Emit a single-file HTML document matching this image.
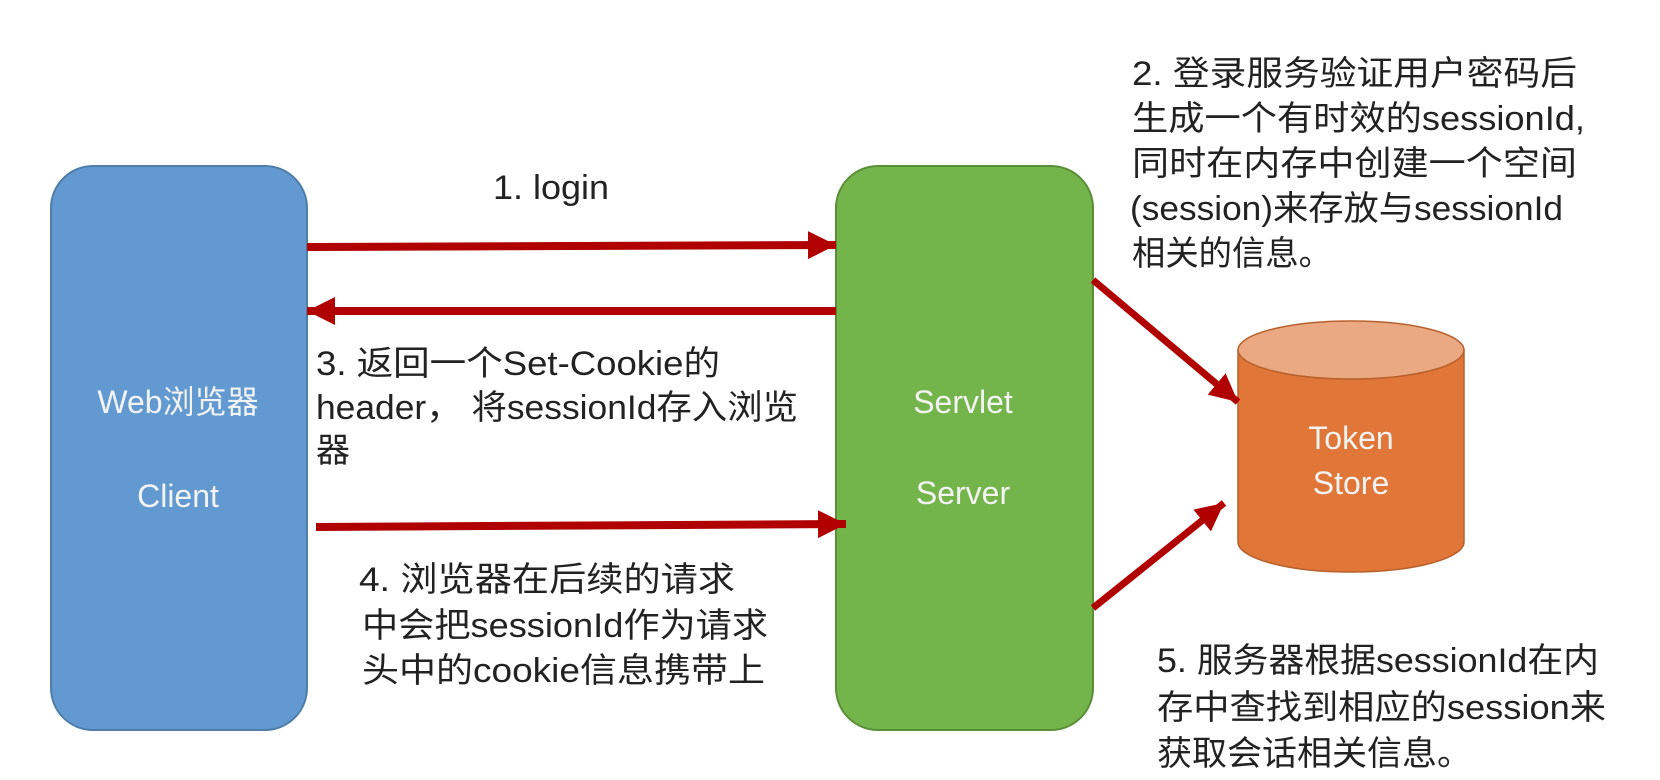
<!DOCTYPE html>
<html><head><meta charset="utf-8"><style>
html,body{margin:0;padding:0;background:#fff;width:1660px;height:780px;overflow:hidden}
svg{display:block}
text{font-family:"Liberation Sans","Noto Sans CJK SC",sans-serif}
.t{font-size:34px;fill:#222}
.w{font-size:32px;fill:#f3f3f3;text-anchor:middle}
</style></head><body>
<svg width="1660" height="780" viewBox="0 0 1660 780" xmlns="http://www.w3.org/2000/svg">
<defs>
<marker id="ah" markerWidth="30" markerHeight="30" refX="28" refY="14" orient="auto" markerUnits="userSpaceOnUse">
<path d="M0,0 L28,14 L0,28 Z" fill="#b00000"/>
</marker>
</defs>
<rect x="51" y="166" width="256" height="564" rx="42" ry="42" fill="#6199d0" stroke="#4f7eaa" stroke-width="2"/>
<rect x="836" y="166" width="257" height="564" rx="42" ry="42" fill="#74b54b" stroke="#5a8f38" stroke-width="2"/>
<path d="M1238,350 L1238,542 A113,30 0 0 0 1464,542 L1464,350 Z" fill="#e07638" stroke="#b8602c" stroke-width="1.5"/>
<ellipse cx="1351" cy="350" rx="113" ry="29" fill="#eba983" stroke="#b8602c" stroke-width="1.5"/>
<line x1="307" y1="247" x2="836" y2="245" stroke="#b00000" stroke-width="8" marker-end="url(#ah)"/>
<line x1="836" y1="311" x2="307" y2="311" stroke="#b00000" stroke-width="8" marker-end="url(#ah)"/>
<line x1="316" y1="527" x2="846" y2="524" stroke="#b00000" stroke-width="8" marker-end="url(#ah)"/>
<line x1="1093" y1="280" x2="1238" y2="402" stroke="#b00000" stroke-width="7" marker-end="url(#ah)"/>
<line x1="1093" y1="608" x2="1224" y2="503" stroke="#b00000" stroke-width="7" marker-end="url(#ah)"/>
<text class="w" x="178" y="413">Web浏览器</text>
<text class="w" x="178" y="507">Client</text>
<text class="w" x="963" y="413">Servlet</text>
<text class="w" x="963" y="504">Server</text>
<text class="w" x="1351" y="449">Token</text>
<text class="w" x="1351" y="494">Store</text>
<text class="t" x="493" y="199" textLength="116" lengthAdjust="spacingAndGlyphs">1. login</text>
<text class="t" x="1132" y="85" textLength="445" lengthAdjust="spacingAndGlyphs">2. 登录服务验证用户密码后</text>
<text class="t" x="1132" y="130" textLength="453" lengthAdjust="spacingAndGlyphs">生成一个有时效的sessionId,</text>
<text class="t" x="1132" y="175" textLength="445" lengthAdjust="spacingAndGlyphs">同时在内存中创建一个空间</text>
<text class="t" x="1130" y="220" textLength="433" lengthAdjust="spacingAndGlyphs">(session)来存放与sessionId</text>
<text class="t" x="1132" y="265" textLength="200" lengthAdjust="spacingAndGlyphs">相关的信息。</text>
<text class="t" x="316" y="375" textLength="404" lengthAdjust="spacingAndGlyphs">3. 返回一个Set-Cookie的</text>
<text class="t" x="316" y="419" textLength="482" lengthAdjust="spacingAndGlyphs">header， 将sessionId存入浏览</text>
<text class="t" x="316" y="462">器</text>
<text class="t" x="359" y="591" textLength="376" lengthAdjust="spacingAndGlyphs">4. 浏览器在后续的请求</text>
<text class="t" x="362" y="637" textLength="406" lengthAdjust="spacingAndGlyphs">中会把sessionId作为请求</text>
<text class="t" x="362" y="682" textLength="403" lengthAdjust="spacingAndGlyphs">头中的cookie信息携带上</text>
<text class="t" x="1157" y="672" textLength="442" lengthAdjust="spacingAndGlyphs">5. 服务器根据sessionId在内</text>
<text class="t" x="1157" y="719" textLength="449" lengthAdjust="spacingAndGlyphs">存中查找到相应的session来</text>
<text class="t" x="1157" y="765" textLength="315" lengthAdjust="spacingAndGlyphs">获取会话相关信息。</text>
</svg>
</body></html>
